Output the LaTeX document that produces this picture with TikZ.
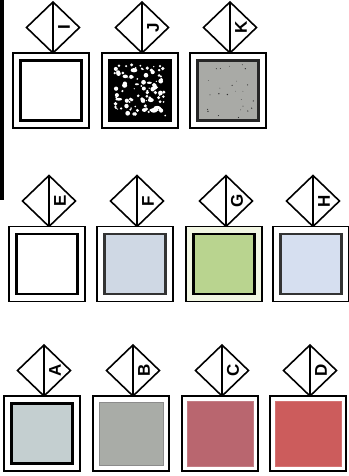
\documentclass[tikz,border=0pt]{standalone}
\usepackage{fontspec}
\setsansfont{Liberation Sans}
\usetikzlibrary{shapes.geometric}
\definecolor{cF}{HTML}{CFD8E4}
\definecolor{cG}{HTML}{B9D48F}
\definecolor{cGbg}{HTML}{F1F6E2}
\definecolor{cH}{HTML}{D6DFF0}
\definecolor{cA}{HTML}{C4CFD0}
\definecolor{cB}{HTML}{A9ACA7}
\definecolor{cC}{HTML}{B9666F}
\definecolor{cD}{HTML}{CC5C5C}
\definecolor{cK}{HTML}{A9AAA6}
\tikzset{
  tag/.style={diamond, draw, line width=1.6pt, minimum width=53pt, minimum height=51pt, inner sep=0pt, outer sep=0pt},
  outerbox/.style={draw, line width=1.6pt, minimum width=76pt, minimum height=75pt, inner sep=0pt, outer sep=0pt, fill=white},
  innerbox/.style={draw, line width=2.8pt, minimum width=61pt, minimum height=60pt, inner sep=0pt, outer sep=0pt},
  letter/.style={font=\sffamily\bfseries\fontsize{17}{17}\selectfont, rotate=90, inner sep=0pt},
  stem/.style={line width=1.6pt}
}
\newcommand\pcell[6]{%
  \node[tag] (#1d) at (#2,#3) {};
  \draw[stem] (#1d.north) -- (#1d.south);
  \node[letter] (#1l) at ([xshift=11pt]#1d.center) {#4};
  \node[outerbox, anchor=north, #5] (#1o) at ([xshift=-2pt]#1d.south) {};
  \node[innerbox, #6] (#1i) at (#1o.center) {};
}
\begin{document}
\begin{tikzpicture}[x=1pt,y=1pt]
\fill[white] (0,0) rectangle (348,-476);
\useasboundingbox (0,0) rectangle (348,-476);
\fill[black] (0,0) rectangle (4,-200);
% row 1
\pcell{I}{53}{-27.5}{I}{}{fill=white}
\pcell{J}{142}{-27.5}{J}{}{fill=black}
\pcell{K}{230}{-27.5}{K}{}{fill=cK, draw=black!85}
\pgfmathsetseed{11}
\foreach \i in {1,...,90}{
  \fill[white] (Ji.center) ++({26*rand},{26*rand}) circle[radius={0.6+1.8*rnd}];
}
\foreach \i in {1,...,12}{
  \fill[white] (Ji.center) ++({22*rand},{22*rand}) ellipse[x radius={2+3*rnd}, y radius={1+1.5*rnd}];
}
\foreach \i in {1,...,25}{
  \fill[black!80] (Ki.center) ++({27*rand},{27*rand}) circle[radius={0.3+0.5*rnd}];
}
% row 2
\pcell{E}{49}{-201}{E}{}{fill=white}
\pcell{F}{137}{-201}{F}{}{fill=cF, draw=black!80}
\pcell{G}{226}{-201}{G}{fill=cGbg}{fill=cG}
\pcell{H}{313}{-201}{H}{}{fill=cH, draw=black!80}
% row 3
\pcell{A}{44}{-370.5}{A}{}{fill=cA}
\pcell{B}{133}{-370.5}{B}{}{fill=cB, draw=black!45, line width=1pt, minimum width=64pt, minimum height=63pt}
\pcell{C}{222}{-370.5}{C}{}{fill=cC, draw=cC!85!white, line width=1pt, minimum width=66pt, minimum height=65pt}
\pcell{D}{310}{-370.5}{D}{}{fill=cD, draw=cD!85!white, line width=1pt, minimum width=66pt, minimum height=65pt}
\end{tikzpicture}
\end{document}
